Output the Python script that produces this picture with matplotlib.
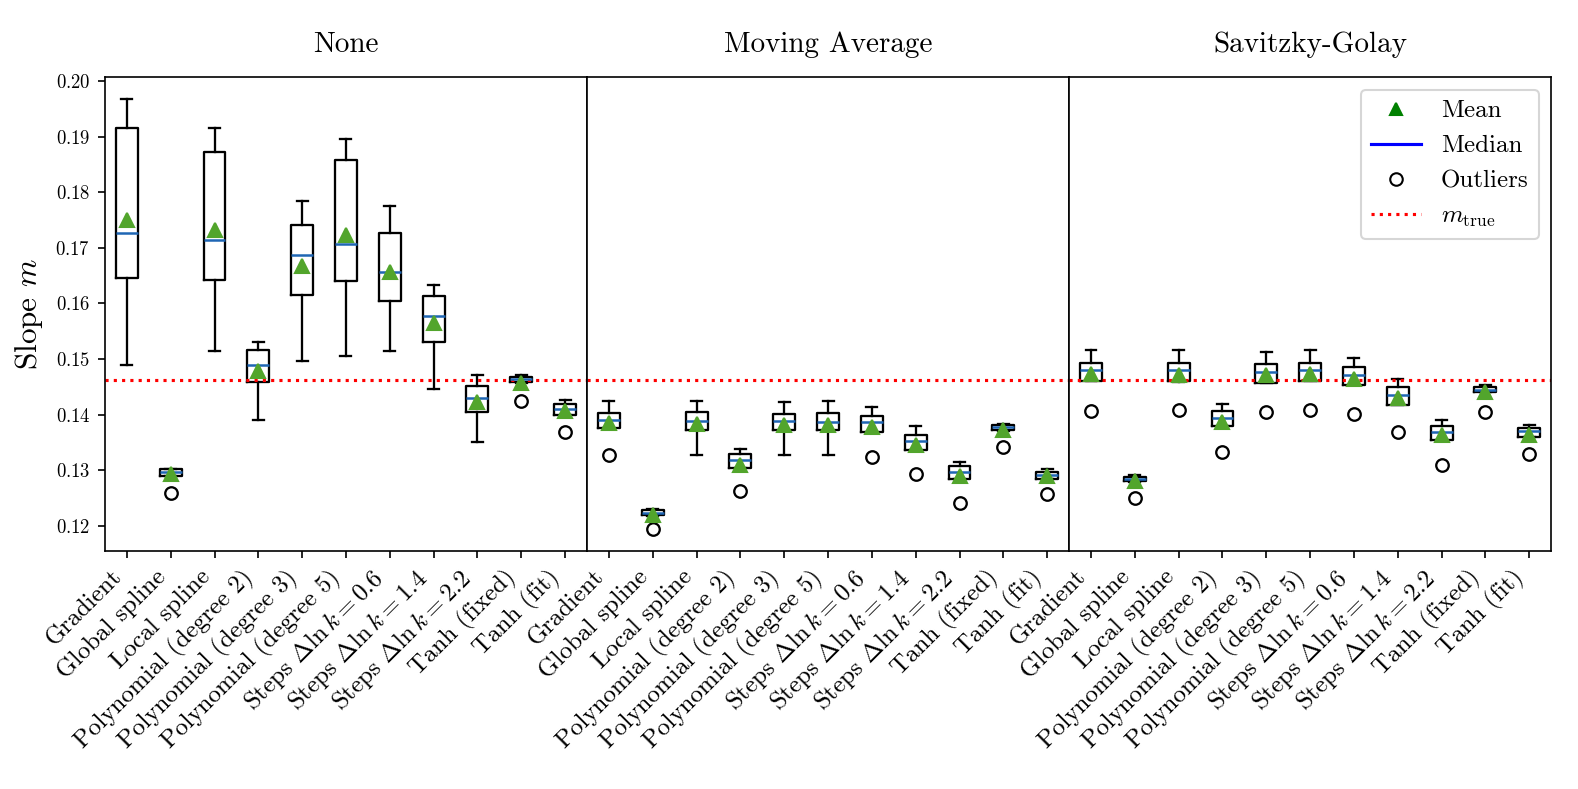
import matplotlib

matplotlib.use("Agg")
import matplotlib.pyplot as plt
from matplotlib.lines import Line2D

plt.rcParams.update(
    {
        "font.family": "serif",
        "font.serif": ["cmr10"],
        "mathtext.fontset": "cm",
        "axes.formatter.use_mathtext": True,
        "axes.unicode_minus": False,
    }
)

panels = ["None", "Moving Average", "Savitzky-Golay"]
methods = [
    "Gradient",
    "Global spline",
    "Local spline",
    "Polynomial (degree 2)",
    "Polynomial (degree 3)",
    "Polynomial (degree 5)",
    r"Steps $\Delta \ln k = 0.6$",
    r"Steps $\Delta \ln k = 1.4$",
    r"Steps $\Delta \ln k = 2.2$",
    "Tanh (fixed)",
    "Tanh (fit)",
]
m_true = 0.1463

# one row per panel (None, Moving Average, Savitzky-Golay), one value per method
whishi = [
    [0.1968, 0.1303, 0.1915, 0.1530, 0.1785, 0.1896, 0.1776, 0.1634, 0.1471, 0.1472, 0.1427],
    [0.1424, 0.1230, 0.1424, 0.1339, 0.1422, 0.1424, 0.1413, 0.1379, 0.1314, 0.1384, 0.1302],
    [0.1516, 0.1291, 0.1516, 0.1419, 0.1513, 0.1516, 0.1502, 0.1465, 0.1390, 0.1453, 0.1382],
]
q3 = [
    [0.1916, 0.1302, 0.1872, 0.1516, 0.1742, 0.1858, 0.1727, 0.1614, 0.1451, 0.1468, 0.1419],
    [0.1403, 0.1229, 0.1404, 0.1330, 0.1401, 0.1403, 0.1397, 0.1364, 0.1308, 0.1381, 0.1297],
    [0.1493, 0.1288, 0.1493, 0.1406, 0.1491, 0.1493, 0.1485, 0.1449, 0.1380, 0.1449, 0.1376],
]
med = [
    [0.1727, 0.1296, 0.1714, 0.1489, 0.1688, 0.1707, 0.1656, 0.1578, 0.1430, 0.1464, 0.1410],
    [0.1391, 0.1224, 0.1389, 0.1318, 0.1388, 0.1387, 0.1386, 0.1353, 0.1296, 0.1377, 0.1291],
    [0.1480, 0.1284, 0.1480, 0.1394, 0.1477, 0.1480, 0.1472, 0.1436, 0.1369, 0.1445, 0.1370],
]
mean = [
    [0.1750, 0.1293, 0.1733, 0.1478, 0.1668, 0.1723, 0.1656, 0.1564, 0.1422, 0.1457, 0.1406],
    [0.1385, 0.1219, 0.1384, 0.1310, 0.1382, 0.1382, 0.1378, 0.1346, 0.1290, 0.1372, 0.1289],
    [0.1474, 0.1280, 0.1472, 0.1387, 0.1471, 0.1473, 0.1464, 0.1430, 0.1363, 0.1441, 0.1364],
]
q1 = [
    [0.1645, 0.1290, 0.1642, 0.1458, 0.1616, 0.1641, 0.1605, 0.1531, 0.1405, 0.1458, 0.1400],
    [0.1376, 0.1219, 0.1373, 0.1304, 0.1372, 0.1372, 0.1368, 0.1337, 0.1284, 0.1372, 0.1284],
    [0.1460, 0.1280, 0.1460, 0.1379, 0.1457, 0.1460, 0.1453, 0.1418, 0.1354, 0.1440, 0.1359],
]
whislo = [
    [0.1490, 0.1290, 0.1514, 0.1391, 0.1496, 0.1505, 0.1515, 0.1446, 0.1351, 0.1457, 0.1400],
    [0.1376, 0.1218, 0.1327, 0.1304, 0.1327, 0.1328, 0.1368, 0.1337, 0.1284, 0.1371, 0.1284],
    [0.1460, 0.1279, 0.1459, 0.1379, 0.1457, 0.1460, 0.1453, 0.1418, 0.1354, 0.1440, 0.1359],
]
fliers = [
    [None, 0.1260, None, None, None, None, None, None, None, 0.1424, 0.1369],
    [0.1327, 0.1194, None, 0.1262, None, None, 0.1324, 0.1294, 0.1242, 0.1341, 0.1258],
    [0.1407, 0.1250, 0.1408, 0.1333, 0.1405, 0.1408, 0.1402, 0.1369, 0.1309, 0.1405, 0.1330],
]

fig, axes = plt.subplots(1, 3, sharey=True, figsize=(10.52, 5.26), dpi=150)
fig.subplots_adjust(left=0.0665, right=0.983, top=0.902, bottom=0.302, wspace=0)

line = {"color": "black", "linewidth": 1.1}
positions = list(range(1, len(methods) + 1))
for p, ax in enumerate(axes):
    stats = []
    for i in range(len(methods)):
        stats.append(
            {
                "med": med[p][i],
                "q1": q1[p][i],
                "q3": q3[p][i],
                "whislo": whislo[p][i],
                "whishi": whishi[p][i],
                "mean": mean[p][i],
                "fliers": [] if fliers[p][i] is None else [fliers[p][i]],
            }
        )
    ax.bxp(
        stats,
        positions=positions,
        showmeans=True,
        boxprops=line,
        whiskerprops=line,
        capprops=line,
        medianprops={"color": "#1f66b4", "linewidth": 1.2},
        meanprops={
            "marker": "^",
            "markersize": 7,
            "markerfacecolor": "#52a52c",
            "markeredgecolor": "#52a52c",
        },
        flierprops={
            "marker": "o",
            "markersize": 6,
            "markerfacecolor": "none",
            "markeredgecolor": "black",
            "markeredgewidth": 1.1,
        },
    )
    ax.axhline(m_true, color="red", linestyle=":", linewidth=1.5)
    ax.set_title(panels[p], fontsize=14, pad=12)
    ax.set_xticks(positions)
    ax.set_xticklabels(methods, rotation=45, ha="right", fontsize=12)
    if p > 0:
        ax.tick_params(axis="y", left=False)

axes[0].set_ylabel(r"Slope $m$", fontsize=15, labelpad=5)
axes[0].tick_params(axis="y", labelsize=9)
axes[0].set_yticks([0.12, 0.13, 0.14, 0.15, 0.16, 0.17, 0.18, 0.19, 0.20])

handles = [
    Line2D([], [], color="green", marker="^", linestyle="none"),
    Line2D([], [], color="blue"),
    Line2D([], [], color="black", marker="o", markerfacecolor="none", linestyle="none"),
    Line2D([], [], color="red", linestyle=":", linewidth=1.5),
]
labels = ["Mean", "Median", "Outliers", r"$m_{\mathrm{true}}$"]
axes[2].legend(handles, labels, loc="upper right", fontsize=12)

fig.savefig("out.png", dpi=150)
